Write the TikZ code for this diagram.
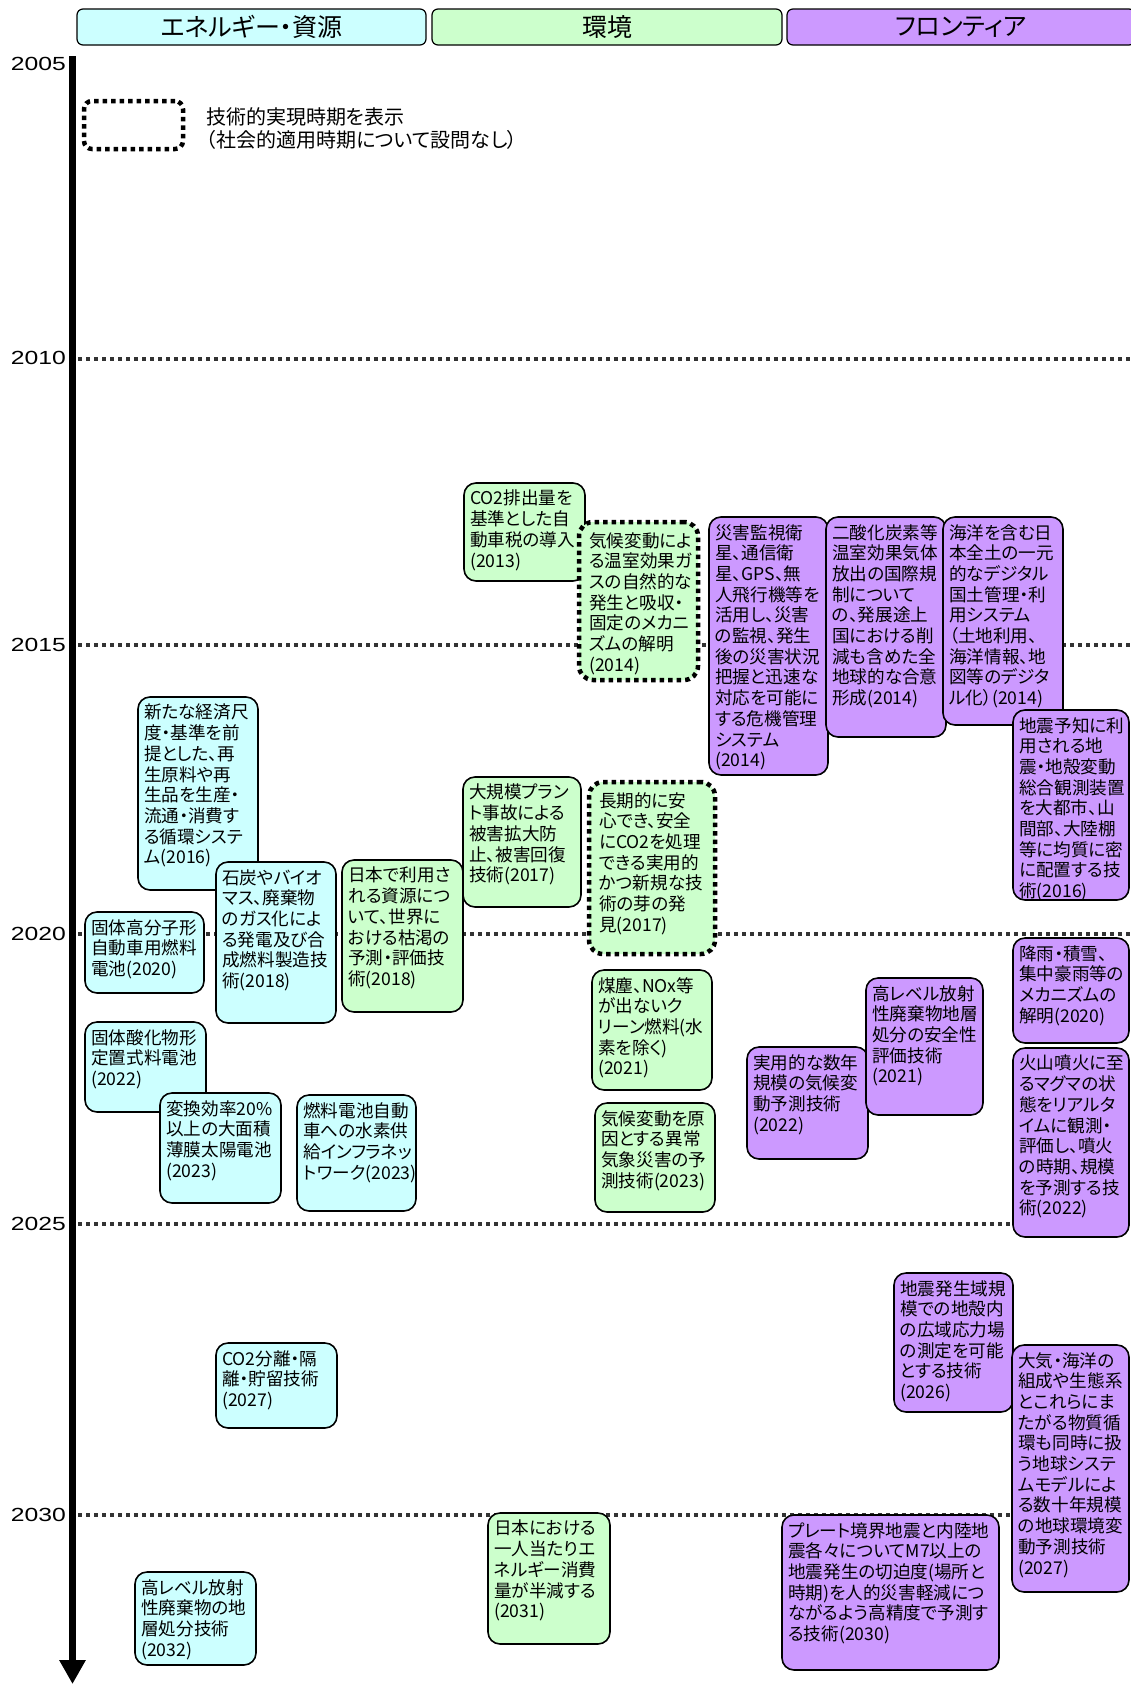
\documentclass[tikz,border=0pt]{standalone}
\usepackage{fontspec}
\setmainfont{Noto Sans CJK JP}[RawFeature=+palt]
\newfontfamily\yrfont{Liberation Sans}[FakeStretch=1.3]
\usetikzlibrary{arrows.meta}
\definecolor{cyanbox}{HTML}{CCFFFF}
\definecolor{greenbox}{HTML}{CCFFCC}
\definecolor{purplebox}{HTML}{CC99FF}
\definecolor{dotgray}{HTML}{333333}
\newcommand{\tlbox}[7]{%
  \node[#2, minimum width={(#5)-(#3)}, minimum height={(#6)-(#4)}] (#1) at ({((#3)+(#5))/2},{((#4)+(#6))/2}) {};
  \node[boxtext] (#1t) at ([shift={(6pt,-7pt)}]#1.north west) {#7};
}
\newcommand{\tldbox}[7]{%
  \node[#2, minimum width={(#5)-(#3)}, minimum height={(#6)-(#4)}] (#1) at ({((#3)+(#5))/2},{((#4)+(#6))/2}) {};
  \node[boxtext] (#1t) at ([shift={(10pt,-10pt)}]#1.north west) {#7};
}
\begin{document}
\begin{tikzpicture}[x=1pt,y=-1pt,
  tbox/.style={draw=black, line width=1.6pt, rounded corners=12pt, inner sep=0pt, outer sep=0pt},
  cbox/.style={tbox, fill=cyanbox},
  gbox/.style={tbox, fill=greenbox},
  pbox/.style={tbox, fill=purplebox},
  gdbox/.style={gbox, line width=4.5pt, dash pattern=on 4.5pt off 4pt, rounded corners=14pt},
  boxtext/.style={anchor=north west, align=left, inner sep=0pt, font=\fontsize{17.6}{20.7}\selectfont},
  hbox/.style={draw=black, line width=1.2pt, rounded corners=6pt, inner sep=0pt, outer sep=0pt, minimum height=36pt, font=\fontsize{25}{25}\selectfont},
  yr/.style={anchor=east, inner sep=0pt, font=\yrfont\fontsize{19}{19}\selectfont},
  yline/.style={draw=dotgray, line width=3.5pt, dash pattern=on 3.5pt off 4.5pt},
  legbox/.style={draw=black, line width=4.5pt, dash pattern=on 4.5pt off 4pt, rounded corners=8pt, inner sep=0pt, outer sep=0pt}
]
\useasboundingbox (0,0) rectangle (1131,1684);
\fill[white] (0,0) rectangle (1131,1684);

% headers
\node[hbox, fill=cyanbox, minimum width=349pt] (h1) at (251.5,27) {エネルギー・資源};
\node[hbox, fill=greenbox, minimum width=350pt] (h2) at (607,27) {環境};
\node[hbox, fill=purplebox, minimum width=348pt] (h3) at (961,27) {フロンティア};

% year labels
\node[yr] (y2005) at (66,64) {2005};
\node[yr] (y2010) at (66,358) {2010};
\node[yr] (y2015) at (66,645) {2015};
\node[yr] (y2020) at (66,934) {2020};
\node[yr] (y2025) at (66,1224) {2025};
\node[yr] (y2030) at (66,1515) {2030};

% dotted year lines
\foreach \yy/\nm in {359/2010,645/2015,934/2020,1224/2025,1515/2030}{
  \coordinate (la\nm) at (78,\yy);
  \coordinate (lb\nm) at (1131,\yy);
  \draw[yline] (la\nm) -- (lb\nm);
}

% axis
\coordinate (axtop) at (72.5,56);
\coordinate (axbot) at (72.5,1684);
\draw[line width=7pt, -{Triangle[length=24pt,width=25pt]}] (axtop) -- (axbot);

% legend
\node[legbox, minimum width=99pt, minimum height=48pt] (leg) at (133.5,125) {};
\node[anchor=west, align=left, inner sep=0pt, font=\fontsize{20}{23}\selectfont] (legt) at (206,128.5) {技術的実現時期を表示\\（社会的適用時期について設問なし）};

% boxes
\tlbox{b1}{gbox}{464}{483}{585}{581}{CO2排出量を\\基準とした自\\動車税の導入\\(2013)}
\tldbox{b2}{gdbox}{579}{522}{698}{680}{気候変動によ\\る温室効果ガ\\スの自然的な\\発生と吸収・\\固定のメカニ\\ズムの解明\\(2014)}
\tlbox{b3}{pbox}{709}{517}{828}{775}{災害監視衛\\星、通信衛\\星、GPS、無\\人飛行機等を\\活用し、災害\\の監視、発生\\後の災害状況\\把握と迅速な\\対応を可能に\\する危機管理\\システム\\(2014)}
\tlbox{b4}{pbox}{826}{517}{946}{737}{二酸化炭素等\\温室効果気体\\放出の国際規\\制について\\の、発展途上\\国における削\\減も含めた全\\地球的な合意\\形成(2014)}
\tlbox{b5}{pbox}{943}{517}{1063}{725}{海洋を含む日\\本全土の一元\\的なデジタル\\国土管理・利\\用システム\\（土地利用、\\海洋情報、地\\図等のデジタ\\ル化）(2014)}
\tlbox{b6}{pbox}{1013}{710}{1129}{900}{地震予知に利\\用される地\\震・地殻変動\\総合観測装置\\を大都市、山\\間部、大陸棚\\等に均質に密\\に配置する技\\術(2016)}
\tlbox{b7}{cbox}{138}{697}{258}{890}{新たな経済尺\\度・基準を前\\提とした、再\\生原料や再\\生品を生産・\\流通・消費す\\る循環システ\\ム(2016)}
\tlbox{b8}{cbox}{216}{862}{336}{1023}{石炭やバイオ\\マス、廃棄物\\のガス化によ\\る発電及び合\\成燃料製造技\\術(2018)}
\tlbox{b9}{gbox}{342}{860}{463}{1012}{日本で利用さ\\れる資源につ\\いて、世界に\\おける枯渇の\\予測・評価技\\術(2018)}
\tlbox{b10}{cbox}{85}{912}{204}{993}{固体高分子形\\自動車用燃料\\電池(2020)}
\tlbox{b11}{gbox}{463}{777}{581}{907}{大規模プラン\\ト事故による\\被害拡大防\\止、被害回復\\技術(2017)}
\tldbox{b12}{gdbox}{589}{782}{715}{954}{長期的に安\\心でき、安全\\にCO2を処理\\できる実用的\\かつ新規な技\\術の芽の発\\見(2017)}
\tlbox{b13}{gbox}{592}{970}{712}{1090}{煤塵、NOx等\\が出ないク\\リーン燃料(水\\素を除く)\\(2021)}
\tlbox{b14}{gbox}{595}{1103}{715}{1212}{気候変動を原\\因とする異常\\気象災害の予\\測技術(2023)}
\tlbox{b15}{pbox}{747}{1047}{868}{1159}{実用的な数年\\規模の気候変\\動予測技術\\(2022)}
\tlbox{b16}{pbox}{866}{978}{983}{1115}{高レベル放射\\性廃棄物地層\\処分の安全性\\評価技術\\(2021)}
\tlbox{b17}{pbox}{1013}{938}{1129}{1043}{降雨・積雪、\\集中豪雨等の\\メカニズムの\\解明(2020)}
\tlbox{b18}{pbox}{1013}{1048}{1129}{1237}{火山噴火に至\\るマグマの状\\態をリアルタ\\イムに観測・\\評価し、噴火\\の時期、規模\\を予測する技\\術(2022)}
\tlbox{b19}{cbox}{85}{1022}{206}{1112}{固体酸化物形\\定置式料電池\\(2022)}
\tlbox{b20}{cbox}{160}{1093}{281}{1203}{変換効率20\%\\以上の大面積\\薄膜太陽電池\\(2023)}
\tlbox{b21}{cbox}{297}{1095}{416}{1211}{燃料電池自動\\車への水素供\\給インフラネッ\\トワーク(2023)}
\tlbox{b22}{pbox}{894}{1273}{1013}{1412}{地震発生域規\\模での地殻内\\の広域応力場\\の測定を可能\\とする技術\\(2026)}
\tlbox{b23}{pbox}{1012}{1345}{1129}{1592}{大気・海洋の\\組成や生態系\\とこれらにま\\たがる物質循\\環も同時に扱\\う地球システ\\ムモデルによ\\る数十年規模\\の地球環境変\\動予測技術\\(2027)}
\tlbox{b24}{cbox}{216}{1343}{337}{1428}{CO2分離・隔\\離・貯留技術\\(2027)}
\tlbox{b25}{cbox}{135}{1572}{256}{1665}{高レベル放射\\性廃棄物の地\\層処分技術\\(2032)}
\tlbox{b26}{gbox}{488}{1513}{610}{1644}{日本における\\一人当たりエ\\ネルギー消費\\量が半減する\\(2031)}
\tlbox{b27}{pbox}{782}{1515}{999}{1670}{プレート境界地震と内陸地\\震各々についてM7以上の\\地震発生の切迫度(場所と\\時期)を人的災害軽減につ\\ながるよう高精度で予測す\\る技術(2030)}
\end{tikzpicture}
\end{document}
